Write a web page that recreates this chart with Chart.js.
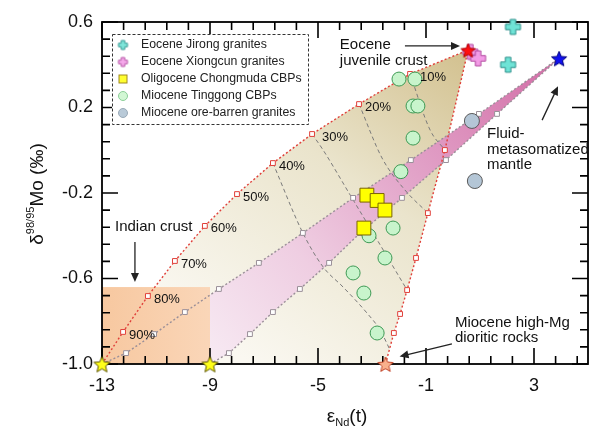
<!DOCTYPE html>
<html>
<head>
<meta charset="utf-8">
<script src="https://cdn.jsdelivr.net/npm/chart.js@4.4.1/dist/chart.umd.min.js"></script>
<style>
html, body { margin: 0; padding: 0; background: #fff; }
#wrap { width: 614px; height: 438px; }
</style>
</head>
<body>
<div id="wrap"><canvas id="moChart" width="614" height="438"></canvas></div>
<script>
// axis ticks
const xTicks = [-13, -9, -5, -1, 3];
const yTicks = [-1.0, -0.6, -0.2, 0.2, 0.6];

// samples
const jirongX = [2.22, 2.04];
const jirongY = [0.577, 0.40];
const xiongcunX = [0.64, 0.93];
const xiongcunY = [0.46, 0.43];
const chongmudaX = [-3.19, -2.81, -2.52, -3.30];
const chongmudaY = [-0.21, -0.235, -0.28, -0.364];
const tinggongX = [-2.0, -1.41, -1.48, -1.30, -1.48, -1.93, -2.22, -3.11, -2.52, -3.70, -3.30, -2.81];
const tinggongY = [0.333, 0.333, 0.207, 0.207, 0.057, -0.10, -0.364, -0.40, -0.504, -0.574, -0.668, -0.855];
const barrenX = [0.70, 0.81];
const barrenY = [0.137, -0.144];

// end-members
const indianStarX = [-13, -9];
const indianStarY = [-1.0, -1.0];
const dioriteStarX = [-2.5];
const dioriteStarY = [-1.0];
const juvenileStarX = [0.56];
const juvenileStarY = [0.469];
const mantleStarX = [3.93];
const mantleStarY = [0.43];

// mixing curves
const pctLabels = ['90%', '80%', '70%', '60%', '50%', '40%', '30%', '20%', '10%'];
const mixIndianX = [-13, -12.22, -11.30, -10.30, -9.19, -8.0, -6.67, -5.22, -3.48, -1.59, 0.56];
const mixIndianY = [-1.0, -0.850, -0.682, -0.518, -0.354, -0.205, -0.060, 0.076, 0.216, 0.357, 0.469];
const mixDioriteX = [-2.5, -2.19, -1.96, -1.70, -1.37, -0.93, -0.30, 0.56];
const mixDioriteY = [-1.0, -0.855, -0.766, -0.654, -0.504, -0.294, 0.001, 0.469];
const mixMantleAX = [-13, -12.11, -11.07, -9.93, -8.67, -7.19, -5.56, -3.70, -1.56, 0.96, 3.93];
const mixMantleBX = [-9, -8.30, -7.52, -6.67, -5.67, -4.59, -3.44, -1.89, -0.26, 1.63, 3.93];
const mixMantleY = [-1.0, -0.949, -0.86, -0.757, -0.649, -0.527, -0.387, -0.223, -0.046, 0.17, 0.43];
const bandEdgeY = -0.677;

const tie10X = [-1.59, -0.85, -0.30];
const tie10Y = [0.357, 0.095, 0.001];
const tie20X = [-3.48, -2.63, -1.78, -0.93];
const tie20Y = [0.216, -0.036, -0.186, -0.294];
const tie30X = [-5.22, -4.81, -3.81, -2.9, -1.70];
const tie30Y = [0.076, 0.001, -0.209, -0.40, -0.654];
const tie40X = [-6.67, -5.56, -4.81, -4.07, -3.19, -2.70, -2.33];
const tie40Y = [-0.060, -0.387, -0.546, -0.640, -0.761, -0.841, -0.935];

const indianBoxX = [-13, -9];
const indianBoxY = [-1.0, -0.64];

const FONT = '"Liberation Sans", Arial, sans-serif';

function pts(xs, ys) {
    return xs.map((v, i) => ({ x: v, y: ys[i] }));
}

function makeStar(fill, stroke, r) {
    const c = document.createElement('canvas');
    const s = Math.ceil(r * 2 + 4);
    c.width = s; c.height = s;
    const g = c.getContext('2d');
    g.beginPath();
    for (let i = 0; i < 10; i++) {
        const rr = i % 2 ? r * 0.45 : r;
        const a = -Math.PI / 2 + i * Math.PI / 5;
        g.lineTo(s / 2 + rr * Math.cos(a), s / 2 + 1 + rr * Math.sin(a));
    }
    g.closePath();
    g.fillStyle = fill; g.fill();
    g.lineWidth = 1; g.strokeStyle = stroke; g.stroke();
    return c;
}

function makePlus(fill, stroke, s, t) {
    const c = document.createElement('canvas');
    const n = Math.ceil(s + 4);
    c.width = n; c.height = n;
    const g = c.getContext('2d');
    const o = (n - s) / 2, a = (s - t) / 2;
    g.beginPath();
    g.moveTo(o + a, o); g.lineTo(o + a + t, o); g.lineTo(o + a + t, o + a);
    g.lineTo(o + s, o + a); g.lineTo(o + s, o + a + t); g.lineTo(o + a + t, o + a + t);
    g.lineTo(o + a + t, o + s); g.lineTo(o + a, o + s); g.lineTo(o + a, o + a + t);
    g.lineTo(o, o + a + t); g.lineTo(o, o + a); g.lineTo(o + a, o + a);
    g.closePath();
    g.fillStyle = fill; g.fill();
    g.lineWidth = 1; g.strokeStyle = stroke; g.stroke();
    return c;
}

const jirongImg = makePlus('#6fe3d6', '#2f8f8a', 15, 5.5);
const xiongcunImg = makePlus('#f39be6', '#b0489e', 15, 5.5);
const yellowStar = makeStar('#ffff1a', '#5a5200', 8.5);
const orangeStar = makeStar('#f9b08c', '#c2452a', 8);
const redStar = makeStar('#ff1010', '#b00000', 7.5);
const blueStar = makeStar('#1010f0', '#00007a', 8);

// hollow squares only at inner points of a curve
function innerRadius(r) {
    return ctx => (ctx.dataIndex === 0 || ctx.dataIndex === ctx.dataset.data.length - 1) ? 0 : r;
}

function mixLine(xs, ys, colour) {
    return {
        data: pts(xs, ys), showLine: true, borderColor: colour, borderWidth: 1.4,
        borderDash: [2, 2.2], pointStyle: 'rect', pointRadius: innerRadius(3.4),
        pointBorderColor: colour, pointBackgroundColor: '#ffffff', pointBorderWidth: 1,
        order: 6, clip: false
    };
}

function tieLine(xs, ys) {
    return {
        data: pts(xs, ys), showLine: true, borderColor: '#7a7a7a', borderWidth: 1,
        borderDash: [4, 3], pointRadius: 0, cubicInterpolationMode: 'monotone', tension: 0.3, order: 7
    };
}

function arrow(ctx, x1, y1, x2, y2) {
    const ang = Math.atan2(y2 - y1, x2 - x1), hl = 9, hw = 4;
    ctx.beginPath();
    ctx.moveTo(x1, y1);
    ctx.lineTo(x2 - Math.cos(ang) * hl * 0.8, y2 - Math.sin(ang) * hl * 0.8);
    ctx.stroke();
    ctx.beginPath();
    ctx.moveTo(x2, y2);
    ctx.lineTo(x2 - hl * Math.cos(ang) + hw * Math.sin(ang), y2 - hl * Math.sin(ang) - hw * Math.cos(ang));
    ctx.lineTo(x2 - hl * Math.cos(ang) - hw * Math.sin(ang), y2 - hl * Math.sin(ang) + hw * Math.cos(ang));
    ctx.closePath();
    ctx.fill();
}

const decor = {
    id: 'decor',
    beforeDatasetsDraw(chart) {
        const { ctx, chartArea: a, scales: { x, y } } = chart;
        const X = v => x.getPixelForValue(v), Y = v => y.getPixelForValue(v);
        ctx.save();
        ctx.beginPath();
        ctx.rect(a.left, a.top, a.right - a.left, a.bottom - a.top);
        ctx.clip();

        // crust mixing triangle
        ctx.beginPath();
        mixIndianX.forEach((v, i) => ctx.lineTo(X(v), Y(mixIndianY[i])));
        for (let i = mixDioriteX.length - 1; i >= 0; i--) ctx.lineTo(X(mixDioriteX[i]), Y(mixDioriteY[i]));
        ctx.closePath();
        const g1 = ctx.createLinearGradient(X(0.56), Y(0.47), X(-7.5), Y(-1.0));
        g1.addColorStop(0, 'rgb(210,192,142)');
        g1.addColorStop(0.45, 'rgb(234,228,204)');
        g1.addColorStop(1, 'rgb(250,248,241)');
        ctx.fillStyle = g1;
        ctx.fill();

        // Indian crust box
        const g2 = ctx.createLinearGradient(X(-13), 0, X(-9), 0);
        g2.addColorStop(0, 'rgb(247,200,160)');
        g2.addColorStop(1, 'rgb(250,214,184)');
        ctx.fillStyle = g2;
        ctx.fillRect(X(indianBoxX[0]), Y(indianBoxY[1]), X(indianBoxX[1]) - X(indianBoxX[0]), Y(indianBoxY[0]) - Y(indianBoxY[1]));

        // mantle mixing band
        ctx.beginPath();
        ctx.moveTo(X(mixMantleBX[0]), Y(mixMantleY[0]));
        ctx.lineTo(X(mixMantleBX[0]), Y(bandEdgeY));
        for (let i = 4; i < mixMantleAX.length; i++) ctx.lineTo(X(mixMantleAX[i]), Y(mixMantleY[i]));
        for (let i = mixMantleBX.length - 1; i >= 0; i--) ctx.lineTo(X(mixMantleBX[i]), Y(mixMantleY[i]));
        ctx.closePath();
        const g3 = ctx.createLinearGradient(X(3.93), Y(0.43), X(-9), Y(-1.0));
        g3.addColorStop(0, 'rgb(210,108,166)');
        g3.addColorStop(0.35, 'rgb(224,156,196)');
        g3.addColorStop(0.7, 'rgb(239,206,226)');
        g3.addColorStop(1, 'rgb(247,234,243)');
        ctx.fillStyle = g3;
        ctx.fill();
        ctx.restore();

        // frame and inward ticks
        ctx.save();
        ctx.strokeStyle = '#000';
        ctx.lineWidth = 1.8;
        ctx.strokeRect(a.left, a.top, a.right - a.left, a.bottom - a.top);
        ctx.lineWidth = 1.6;
        ctx.beginPath();
        for (let i = 0; i <= 22; i++) {
            const px = X(-13 + i * 0.8), len = i % 5 === 0 ? 16 : 8;
            ctx.moveTo(px, a.bottom); ctx.lineTo(px, a.bottom - len);
            ctx.moveTo(px, a.top); ctx.lineTo(px, a.top + len);
        }
        for (let i = 0; i <= 20; i++) {
            const py = Y(-1.0 + i * 0.08), len = i % 5 === 0 ? 16 : 8;
            ctx.moveTo(a.left, py); ctx.lineTo(a.left + len, py);
            ctx.moveTo(a.right, py); ctx.lineTo(a.right - len, py);
        }
        ctx.stroke();
        ctx.restore();
    },
    afterDatasetsDraw(chart) {
        const { ctx, chartArea: a, scales: { x, y } } = chart;
        const X = v => x.getPixelForValue(v), Y = v => y.getPixelForValue(v);
        ctx.save();
        ctx.fillStyle = '#111';
        ctx.textBaseline = 'middle';
        ctx.textAlign = 'left';

        // percentage labels on crust mixing curve
        ctx.font = '13px ' + FONT;
        pctLabels.forEach((t, i) => {
            const dx = (i === 6 || i === 8) ? 10 : 6;
            ctx.fillText(t, X(mixIndianX[i + 1]) + dx, Y(mixIndianY[i + 1]) + 3);
        });

        // annotations
        ctx.font = '15px ' + FONT;
        ctx.fillText('Eocene', X(-4.19), Y(0.492));
        ctx.fillText('juvenile crust', X(-4.19), Y(0.418));
        ctx.fillText('Fluid-', X(1.26), Y(0.075));
        ctx.fillText('metasomatized', X(1.26), Y(0.003));
        ctx.fillText('mantle', X(1.26), Y(-0.067));
        ctx.fillText('Indian crust', X(-12.52), Y(-0.359));
        ctx.fillText('Miocene high-Mg', X(0.07), Y(-0.808));
        ctx.fillText('dioritic rocks', X(0.07), Y(-0.878));

        ctx.strokeStyle = '#222';
        ctx.fillStyle = '#222';
        ctx.lineWidth = 1.3;
        arrow(ctx, X(-1.78), Y(0.488), X(0.26), Y(0.488));
        arrow(ctx, X(3.30), Y(0.141), X(3.89), Y(0.30));
        arrow(ctx, X(-11.78), Y(-0.429), X(-11.78), Y(-0.616));
        arrow(ctx, X(-0.04), Y(-0.906), X(-1.98), Y(-0.965));

        // legend
        const lx = a.left + 10, ly = a.top + 12, lw = 196, lh = 90;
        ctx.setLineDash([3, 2]);
        ctx.lineWidth = 1;
        ctx.strokeStyle = '#333';
        ctx.fillStyle = '#fff';
        ctx.fillRect(lx, ly, lw, lh);
        ctx.strokeRect(lx + 0.5, ly + 0.5, lw, lh);
        ctx.setLineDash([]);
        const rows = [
            'Eocene Jirong granites',
            'Eocene Xiongcun granites',
            'Oligocene Chongmuda CBPs',
            'Miocene Tinggong CBPs',
            'Miocene ore-barren granites'
        ];
        const smallJ = makePlus('#7fe6da', '#3a9a94', 9, 3.5);
        const smallX = makePlus('#f5a8ea', '#b85aa8', 9, 3.5);
        ctx.font = '12.3px ' + FONT;
        rows.forEach((t, i) => {
            const cy = ly + 11 + i * 17, cx = lx + 11;
            if (i === 0) ctx.drawImage(smallJ, cx - smallJ.width / 2, cy - smallJ.height / 2);
            if (i === 1) ctx.drawImage(smallX, cx - smallX.width / 2, cy - smallX.height / 2);
            if (i === 2) {
                ctx.fillStyle = '#ffff30'; ctx.fillRect(cx - 4, cy - 4, 8, 8);
                ctx.strokeStyle = '#a08a20'; ctx.strokeRect(cx - 4, cy - 4, 8, 8);
            }
            if (i === 3 || i === 4) {
                ctx.beginPath(); ctx.arc(cx, cy, 4.5, 0, Math.PI * 2);
                ctx.fillStyle = i === 3 ? '#d2f7d4' : '#b9cad8'; ctx.fill();
                ctx.strokeStyle = i === 3 ? '#8ccf98' : '#9aaab8'; ctx.stroke();
            }
            ctx.fillStyle = '#222';
            ctx.fillText(t, lx + 29, cy);
        });
        ctx.restore();
    },
    afterDraw(chart) {
        const { ctx, chartArea: a } = chart;
        ctx.save();
        ctx.fillStyle = '#111';
        ctx.textBaseline = 'alphabetic';
        // y title
        ctx.translate(36, 194);
        ctx.rotate(-Math.PI / 2);
        const big = '19px ' + FONT, sml = '11px ' + FONT;
        ctx.font = big; const w1 = ctx.measureText('\u03b4').width;
        ctx.font = sml; const w2 = ctx.measureText('98/95').width;
        ctx.font = big; const w3 = ctx.measureText('Mo (\u2030)').width;
        let sx = -(w1 + w2 + w3) / 2;
        ctx.font = big; ctx.fillText('\u03b4', sx, 7); sx += w1;
        ctx.font = sml; ctx.fillText('98/95', sx, -2); sx += w2;
        ctx.font = big; ctx.fillText('Mo (\u2030)', sx, 7);
        ctx.restore();

        // x title
        ctx.save();
        ctx.fillStyle = '#111';
        ctx.textBaseline = 'alphabetic';
        ctx.font = big; const e1 = ctx.measureText('\u03b5').width, e3 = ctx.measureText('(t)').width;
        ctx.font = sml; const e2 = ctx.measureText('Nd').width;
        let tx = (a.left + a.right) / 2 + 2 - (e1 + e2 + e3) / 2;
        const base = 422;
        ctx.font = big; ctx.fillText('\u03b5', tx, base); tx += e1;
        ctx.font = sml; ctx.fillText('Nd', tx, base + 4); tx += e2;
        ctx.font = big; ctx.fillText('(t)', tx, base);
        ctx.restore();
    }
};

const tickFont = { family: FONT, size: 18 };

new Chart(document.getElementById('moChart'), {
    type: 'scatter',
    data: {
        datasets: [
            { data: pts(juvenileStarX, juvenileStarY), pointStyle: redStar, order: 0, clip: false },
            { data: pts(mantleStarX, mantleStarY), pointStyle: blueStar, order: 0, clip: false },
            { data: pts(indianStarX, indianStarY), pointStyle: yellowStar, order: 0, clip: false },
            { data: pts(dioriteStarX, dioriteStarY), pointStyle: orangeStar, order: 0, clip: false },
            { data: pts(jirongX, jirongY), pointStyle: jirongImg, order: 1, clip: false },
            { data: pts(xiongcunX, xiongcunY), pointStyle: xiongcunImg, order: 1, clip: false },
            {
                data: pts(chongmudaX, chongmudaY), pointStyle: 'rect', pointRadius: 9.8,
                pointBackgroundColor: '#ffff00', pointBorderColor: '#7a6400', pointBorderWidth: 1, order: 2
            },
            {
                data: pts(tinggongX, tinggongY), pointStyle: 'circle', pointRadius: 7,
                pointBackgroundColor: '#c8f4cc', pointBorderColor: '#3f9a55', pointBorderWidth: 1, order: 3
            },
            {
                data: pts(barrenX, barrenY), pointStyle: 'circle', pointRadius: 7.5,
                pointBackgroundColor: '#b4c6d6', pointBorderColor: '#5a5a5a', pointBorderWidth: 1, order: 3
            },
            mixLine(mixIndianX, mixIndianY, '#e0403a'),
            mixLine(mixDioriteX, mixDioriteY, '#e0403a'),
            mixLine(mixMantleAX, mixMantleY, '#9a8f98'),
            mixLine(mixMantleBX, mixMantleY, '#9a8f98'),
            tieLine(tie10X, tie10Y),
            tieLine(tie20X, tie20Y),
            tieLine(tie30X, tie30Y),
            tieLine(tie40X, tie40Y)
        ]
    },
    options: {
        responsive: false,
        animation: false,
        events: [],
        layout: { padding: { top: 22, right: 26, left: 0, bottom: 0 } },
        plugins: { legend: { display: false }, tooltip: { enabled: false } },
        scales: {
            x: {
                type: 'linear', min: -13, max: 5,
                grid: { display: false, drawTicks: false },
                border: { display: false },
                afterBuildTicks: s => { s.ticks = xTicks.map(v => ({ value: v })); },
                afterFit: s => { s.height = 74; },
                ticks: { autoSkip: false, maxRotation: 0, color: '#111', font: tickFont, padding: 11 }
            },
            y: {
                type: 'linear', min: -1.0, max: 0.6,
                grid: { display: false, drawTicks: false },
                border: { display: false },
                afterBuildTicks: s => { s.ticks = yTicks.map(v => ({ value: v })); },
                afterFit: s => { s.width = 102; },
                ticks: { autoSkip: false, color: '#111', font: tickFont, padding: 9, callback: v => v.toFixed(1) }
            }
        }
    },
    plugins: [decor]
});
</script>
</body>
</html>
